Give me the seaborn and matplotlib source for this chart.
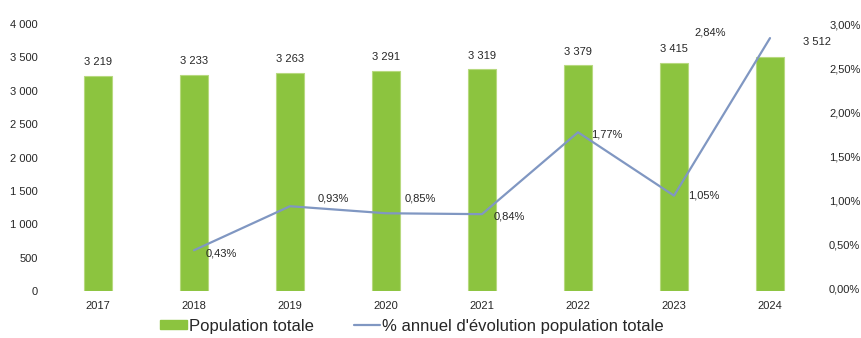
import matplotlib
matplotlib.use("Agg")
import matplotlib.pyplot as plt
import seaborn as sns
import pandas as pd
from matplotlib.patches import Patch
from matplotlib.lines import Line2D

years = ["2017", "2018", "2019", "2020", "2021", "2022", "2023", "2024"]
population = [3219, 3233, 3263, 3291, 3319, 3379, 3415, 3512]
pct_years = ["2018", "2019", "2020", "2021", "2022", "2023", "2024"]
pct_change = [0.43, 0.93, 0.85, 0.84, 1.77, 1.05, 2.84]
left_ticks = [0, 500, 1000, 1500, 2000, 2500, 3000, 3500, 4000]
right_ticks = [0.0, 0.5, 1.0, 1.5, 2.0, 2.5, 3.0]

bar_label_offsets = [(0, 10), (0, 10), (0, 10), (0, 10), (0, 10), (0, 10), (0, 10), (34, 10.5)]
pct_label_offsets = [(20, -2.6), (31, 5.5), (25, 10.6), (20, -1.5), (21, -1.3), (21.5, 0), (-43, 3.8)]

GREEN = "#8cc43f"
BLUE = "#8097c2"
TXT = "#262626"

sns.set_theme(style="white")
plt.rcParams["font.family"] = ["Liberation Sans", "DejaVu Sans"]

fig = plt.figure(figsize=(8.62, 3.38), dpi=100)
ax = fig.add_axes([50 / 862, 47 / 338, 768 / 862, 267 / 338])

df = pd.DataFrame({"year": years, "pop": population})
sns.barplot(data=df, x="year", y="pop", ax=ax, color=GREEN, width=0.3,
            saturation=1, edgecolor="#b7d97f", linewidth=0.8)

ax.set_xlim(-0.5, 7.5)
ax.set_ylim(0, 4000)
ax.set_yticks(left_ticks)
ax.set_yticklabels([f"{v:,}".replace(",", " ") for v in left_ticks])
ax.set_xlabel("")
ax.set_ylabel("")
ax.tick_params(axis="both", labelsize=8, colors=TXT, length=0)
ax.tick_params(axis="y", pad=9)
ax.tick_params(axis="x", pad=7)
for s in ax.spines.values():
    s.set_visible(False)

for i, (v, off) in enumerate(zip(population, bar_label_offsets)):
    ax.annotate(f"{v:,}".replace(",", " "), (i, v), xytext=off,
                textcoords="offset points", ha="center", va="center",
                fontsize=8, color=TXT)

ax2 = ax.twinx()
xpos = [years.index(y) for y in pct_years]
sns.lineplot(x=xpos, y=pct_change, ax=ax2, color=BLUE, linewidth=1.6)
ax2.set_ylim(-0.033, 2.944)
ax2.set_yticks(right_ticks)
ax2.set_yticklabels([f"{v:.2f}%".replace(".", ",") for v in right_ticks])
ax2.tick_params(axis="y", labelsize=8, colors=TXT, length=0, pad=8)
ax2.set_ylabel("")
for s in ax2.spines.values():
    s.set_visible(False)
ax2.grid(False)
ax.grid(False)

for x, v, off in zip(xpos, pct_change, pct_label_offsets):
    ax2.annotate(f"{v:.2f}%".replace(".", ","), (x, v), xytext=off,
                 textcoords="offset points", ha="center", va="center",
                 fontsize=8, color=TXT)

handles = [Patch(facecolor=GREEN, edgecolor=GREEN),
           Line2D([], [], color=BLUE, linewidth=1.6)]
labels = ["Population totale", "% annuel d'évolution population totale"]
fig.legend(handles, labels, loc="center", bbox_to_anchor=(412 / 862, 12 / 338),
           ncol=2, frameon=False, fontsize=12, handlelength=1.6,
           handleheight=0.45, handletextpad=0.1, columnspacing=2.4,
           labelcolor=TXT)

fig.savefig("out.png", dpi=100)
